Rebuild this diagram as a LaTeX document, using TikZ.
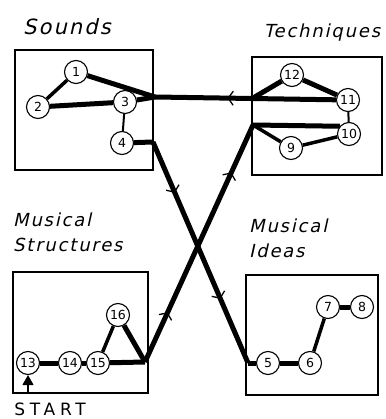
\documentclass[tikz,border=0pt]{standalone}
\usepackage{fontspec}
\newfontfamily\handfont[LetterSpace=10, FakeSlant=0.22]{DejaVu Sans}
\newfontfamily\startfont[LetterSpace=28]{DejaVu Sans}
\newfontfamily\numfont{DejaVu Sans}
\usetikzlibrary{arrows.meta,decorations.markings,backgrounds}

\begin{document}
\begin{tikzpicture}[
  x=1pt, y=-1pt, line cap=round, line join=round,
  num/.style={circle, draw, line width=1.1pt, fill=white, minimum size=23pt, inner sep=0pt, font=\numfont\fontsize{12.5}{13}\selectfont},
  area/.style={draw, line width=1.2pt},
  lbl/.style={font=\handfont\fontsize{18}{25}\selectfont, align=left, inner sep=0pt},
  heavy/.style={line width=5pt},
  medium/.style={line width=3.5pt},
  light/.style={line width=2pt},
  flowmark/.style={postaction={decorate, decoration={markings,
      mark=at position #1 with {\arrow{Straight Barb[line width=1.3pt, length=5pt, width=14pt]}}}}},
]
\useasboundingbox (0,0) rectangle (385,419);

% headings
\node[lbl, font=\handfont\fontsize{21}{24}\selectfont] (tsounds) at (67,27) {Sounds};
\node[lbl] (ttech) at (322,33) {Techniques};
\node[lbl, anchor=north west] (tstruct) at (13,213) {Musical\\Structures};
\node[lbl, anchor=north west] (tideas) at (249,219) {Musical\\Ideas};
\node[font=\startfont\fontsize{17}{17}\selectfont, inner sep=0pt] (tstart) at (50,409) {START};

% junctions
\coordinate (j1) at (155,97);
\coordinate (j2) at (253,125);
\coordinate (j3) at (145,362);
\coordinate (j4) at (153,142);
\coordinate (j5) at (248,363);
\coordinate (j6) at (253,98);
\coordinate (startfoot) at (28,393);

% Sounds
\node[num] (n1) at (76,72) {1};
\node[num] (n2) at (38,107) {2};
\node[num] (n3) at (125,102) {3};
\node[num] (n4) at (122,143) {4};
% Musical Ideas
\node[num] (n5) at (268,363) {5};
\node[num] (n6) at (310,363) {6};
\node[num] (n7) at (328,307) {7};
\node[num] (n8) at (362,307) {8};
% Techniques
\node[num] (n9) at (291,148) {9};
\node[num] (n10) at (349,134) {10};
\node[num] (n11) at (348,100) {11};
\node[num] (n12) at (292,75) {12};
% Musical Structures
\node[num] (n13) at (28,363) {13};
\node[num] (n14) at (70,363) {14};
\node[num] (n15) at (98,363) {15};
\node[num] (n16) at (118,315) {16};

\begin{scope}[on background layer]
  \draw[area] (15,50) rectangle (153,170);
  \draw[area] (252,57) rectangle (382,175);
  \draw[area] (13,272) rectangle (148,393);
  \draw[area] (246,275) rectangle (378,395);

  \draw[medium] (n1) -- (n2);
  \draw[heavy] (n2) -- (n3);
  \draw[light] (n3) -- (n4);
  \draw[heavy] (n1) -- (j1);
  \draw[heavy] (n3) -- (j1);
  \draw[heavy, flowmark=0.6] (n11) -- (j1);
  \draw[heavy] (n12) -- (j6);
  \draw[heavy] (n12) -- (n11);
  \draw[light] (n11) -- (n10);
  \draw[heavy] (n10.140) -- (j2);
  \draw[medium] (n9) -- (j2);
  \draw[medium] (n9) -- (n10);

  \draw[heavy] (n4) -- (j4);
  \draw[heavy, flowmark=0.23, flowmark=0.71] (j4) -- (j5);
  \draw[heavy] (j5) -- (n5);
  \draw[heavy] (n5) -- (n6);
  \draw[medium] (n6) -- (n7);
  \draw[heavy] (n7) -- (n8);

  \draw[heavy] (n13) -- (n14);
  \draw[heavy] (n14) -- (n15);
  \draw[medium] (n15) -- (n16);
  \draw[heavy] (n16) -- (j3);
  \draw[heavy] (n15) -- (j3);
  \draw[heavy, flowmark=0.21, flowmark=0.8] (j3) -- (j2);
\end{scope}

\draw[line width=1.3pt, -{Triangle[length=10pt, width=11pt]}] (startfoot) -- (n13);
\end{tikzpicture}
\end{document}
